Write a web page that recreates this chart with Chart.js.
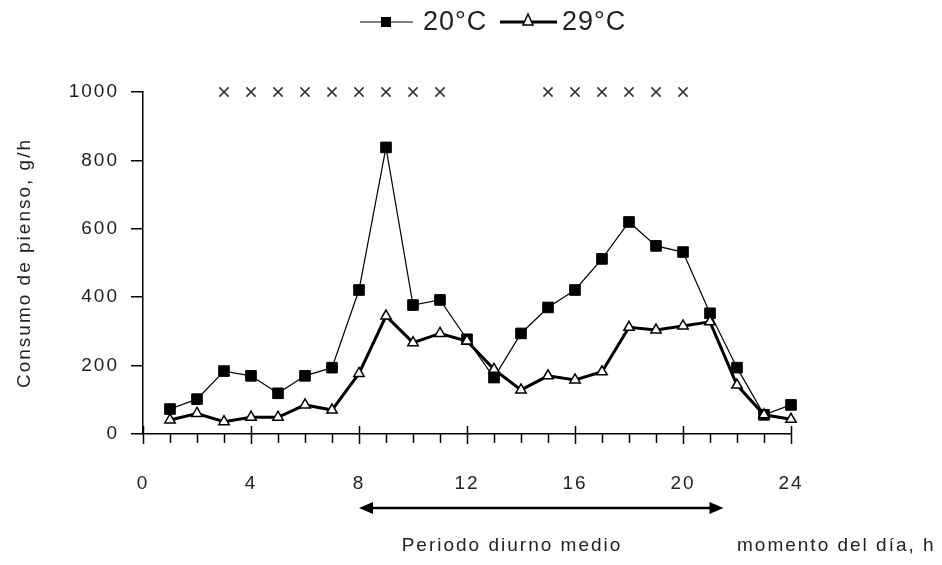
<!DOCTYPE html>
<html>
<head>
<meta charset="utf-8">
<script src="https://cdn.jsdelivr.net/npm/chart.js@4"></script>
<style>
  html, body { margin: 0; padding: 0; background: #fff; }
</style>
</head>
<body>
<canvas id="chart" width="942" height="565"></canvas>
<script>
// Horas del día
const hours = [1, 2, 3, 4, 5, 6, 7, 8, 9, 10, 11, 12, 13, 14, 15, 16, 17, 18, 19, 20, 21, 22, 23, 24];

// Consumo de pienso (g/h) a 20°C y 29°C
const consumo20 = [73, 102, 184, 170, 119, 170, 194, 421, 838, 377, 392, 277, 165, 294, 370, 421, 512, 620, 550, 532, 353, 194, 56, 85];
const consumo29 = [41, 60, 36, 49, 49, 85, 70, 177, 345, 267, 294, 272, 189, 129, 170, 158, 182, 312, 304, 316, 328, 143, 56, 43];

// Horas con diferencias significativas (x)
const sigHours = [3, 4, 5, 6, 7, 8, 9, 10, 11, 15, 16, 17, 18, 19, 20];
const sigLevel = 1000;

// Periodo diurno medio (inicio, fin)
const diurno = [8, 21.5];

const FONT = "'Liberation Sans', Arial, sans-serif";
const TXT = "#222";

function toPoints(xs, ys) {
  return xs.map((x, i) => ({ x: x, y: ys[i] }));
}

// Ticks del eje x, flecha, textos y leyenda
const extras = {
  id: "extras",
  beforeUpdate(chart) {
    chart.ctx.letterSpacing = "2px";
  },
  beforeDraw(chart) {
    chart.ctx.letterSpacing = "2px";
  },
  afterDraw(chart) {
    const ctx = chart.ctx;
    const x = chart.scales.x;
    const y0 = x.top;

    ctx.save();
    ctx.strokeStyle = "#000";
    ctx.lineWidth = 1.5;
    ctx.beginPath();
    for (let h = x.min; h <= x.max; h++) {
      const px = Math.round(x.getPixelForValue(h)) + 0.5;
      if (h % 4 === 0) {
        ctx.moveTo(px, y0 - 8);
        ctx.lineTo(px, y0 + 10);
      } else {
        ctx.moveTo(px, y0);
        ctx.lineTo(px, y0 + 9);
      }
    }
    ctx.stroke();

    // Flecha del periodo diurno
    const ax1 = x.getPixelForValue(diurno[0]);
    const ax2 = x.getPixelForValue(diurno[1]);
    const ay = 508;
    ctx.lineWidth = 2.5;
    ctx.beginPath();
    ctx.moveTo(ax1 + 10, ay);
    ctx.lineTo(ax2 - 10, ay);
    ctx.stroke();
    ctx.fillStyle = "#000";
    ctx.beginPath();
    ctx.moveTo(ax1, ay);
    ctx.lineTo(ax1 + 14, ay - 6);
    ctx.lineTo(ax1 + 14, ay + 6);
    ctx.closePath();
    ctx.fill();
    ctx.beginPath();
    ctx.moveTo(ax2, ay);
    ctx.lineTo(ax2 - 14, ay - 6);
    ctx.lineTo(ax2 - 14, ay + 6);
    ctx.closePath();
    ctx.fill();

    // Textos inferiores
    ctx.letterSpacing = "2px";
    ctx.font = "19px " + FONT;
    ctx.fillStyle = TXT;
    ctx.textBaseline = "middle";
    ctx.textAlign = "center";
    ctx.fillText("Periodo diurno medio", 512, 546);
    ctx.textAlign = "left";
    ctx.fillText("momento del día, h", 737, 546);

    // Leyenda
    const ly = 22;
    ctx.strokeStyle = "#000";
    ctx.lineWidth = 1.2;
    ctx.beginPath();
    ctx.moveTo(360, ly);
    ctx.lineTo(413, ly);
    ctx.stroke();
    ctx.fillStyle = "#000";
    ctx.fillRect(381, ly - 5, 10, 10);

    ctx.lineWidth = 3;
    ctx.beginPath();
    ctx.moveTo(500, ly);
    ctx.lineTo(557, ly);
    ctx.stroke();
    ctx.lineWidth = 1.5;
    ctx.fillStyle = "#fff";
    ctx.beginPath();
    ctx.moveTo(528, ly - 8);
    ctx.lineTo(533, ly + 3);
    ctx.lineTo(523, ly + 3);
    ctx.closePath();
    ctx.fill();
    ctx.stroke();

    ctx.letterSpacing = "1px";
    ctx.font = "27px " + FONT;
    ctx.fillStyle = TXT;
    ctx.fillText("20°C", 423, ly + 1);
    ctx.fillText("29°C", 562, ly + 1);
    ctx.restore();
  }
};

const tickFont = { family: FONT, size: 19 };

new Chart(document.getElementById("chart"), {
  type: "line",
  data: {
    datasets: [
      {
        label: "signif",
        type: "scatter",
        data: toPoints(sigHours, sigHours.map(() => sigLevel)),
        pointStyle: "crossRot",
        pointRadius: 6.5,
        borderColor: "#333",
        pointBorderWidth: 1.5,
        showLine: false,
        order: 0,
      },
      {
        label: "29°C",
        data: toPoints(hours, consumo29),
        borderColor: "#000",
        borderWidth: 3,
        pointStyle: "triangle",
        pointRadius: 6,
        pointBackgroundColor: "#fff",
        pointBorderColor: "#000",
        pointBorderWidth: 1.5,
        tension: 0,
        order: 1,
      },
      {
        label: "20°C",
        data: toPoints(hours, consumo20),
        borderColor: "#000",
        borderWidth: 1.2,
        pointStyle: "rect",
        pointRadius: 7.5,
        pointBackgroundColor: "#000",
        pointBorderColor: "#000",
        pointBorderWidth: 1,
        tension: 0,
        order: 2,
      },
    ],
  },
  options: {
    responsive: false,
    animation: false,
    devicePixelRatio: 1,
    clip: false,
    layout: { padding: { top: 92, right: 151, left: 0, bottom: 71 } },
    plugins: {
      legend: { display: false },
      tooltip: { enabled: false },
    },
    scales: {
      x: {
        type: "linear",
        min: 0,
        max: 24,
        ticks: { stepSize: 4, padding: 38, font: tickFont, color: TXT, callback: (v) => String(v) },
        grid: { display: false, drawTicks: false },
        border: { color: "#000", width: 1.5 },
        afterFit(scale) {
          scale.height = 60;
        },
      },
      y: {
        min: 0,
        max: 1000,
        ticks: { stepSize: 200, padding: 12, font: tickFont, color: TXT, callback: (v) => String(v) },
        grid: { drawOnChartArea: false, tickLength: 12, color: "#000", lineWidth: 1.5 },
        border: { color: "#000", width: 1.5 },
        title: {
          display: true,
          text: "Consumo de pienso, g/h",
          font: tickFont,
          color: TXT,
          padding: { top: 13, bottom: 0 },
        },
        afterFit(scale) {
          scale.width = 143;
        },
      },
    },
  },
  plugins: [extras],
});
</script>
</body>
</html>
